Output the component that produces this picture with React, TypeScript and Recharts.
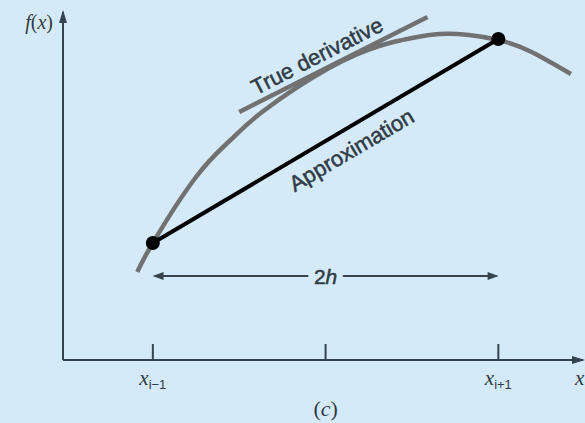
import React from "react";
import { LineChart, Line, XAxis, YAxis, ReferenceDot, ReferenceLine } from "recharts";

// curve f(x) (x in units of the tick spacing)
const curveX = [0.91, 1.0, 1.25, 1.45, 1.64, 2.02, 2.31, 2.5, 2.66, 2.83, 3.0, 3.18, 3.42];
const curveY = [0.88, 1.17, 1.83, 2.2, 2.49, 2.92, 3.14, 3.22, 3.26, 3.25, 3.2, 3.09, 2.86];

// tangent at x_i ("True derivative")
const tangentX = [1.5, 2.59];
const tangentY = [2.48, 3.43];

// secant through x_{i-1}, x_{i+1} ("Approximation")
const approxX = [1, 3];
const approxY = [1.17, 3.21];

// 2h span arrow
const spanY = 0.84;
const spanLeftX = [1.01, 1.9];
const spanRightX = [2.1, 2.99];

const xTicks = [1, 2, 3];
const xTickSubs = ["i\u22121", "", "i+1"];

const X_DOMAIN: [number, number] = [0.48, 3.49];
const Y_DOMAIN: [number, number] = [0, 3.48];

const BG = "#d5eaf9";
const AXIS = "#34434e";
const GRAY = "#717171";
const TEXT = "#2f3b45";

const pts = (xs: number[], ys: number[]) => xs.map((x, i) => ({ x, y: ys[i] }));

const curve = pts(curveX, curveY);
const tangent = pts(tangentX, tangentY);
const approx = pts(approxX, approxY);
const spanLeft = pts(spanLeftX, [spanY, spanY]);
const spanRight = pts(spanRightX, [spanY, spanY]);

function XTick(props: any) {
  const { x, y, payload, index } = props;
  const sub = xTickSubs[index] ?? "";
  return (
    <g key={`t-${payload.value}`}>
      <line x1={x} x2={x} y1={y} y2={y - 16} stroke={AXIS} strokeWidth={2} />
      {sub && (
        <text
          x={x}
          y={y + 25}
          textAnchor="middle"
          fill={TEXT}
          fontFamily="'Liberation Serif', serif"
          fontStyle="italic"
          fontSize={21}
        >
          x
          <tspan fontSize={13} dy={4} fontStyle="normal" fontFamily="'Liberation Sans', Arial, sans-serif">
            {sub}
          </tspan>
        </text>
      )}
    </g>
  );
}

const arrowDot = (dir: "left" | "right", at: number) => (p: any) => {
  const { cx, cy, index } = p;
  if (index !== at) return <g key={`d-${index}`} />;
  const s = dir === "left" ? -1 : 1;
  return (
    <path
      key={`d-${index}`}
      d={`M${cx + s * 2},${cy} L${cx - s * 9},${cy - 4} L${cx - s * 9},${cy + 4} Z`}
      fill={AXIS}
    />
  );
};

const rotatedText = (txt: string, angle: number, size: number) => (p: any) => (
  <text
    x={p.cx}
    y={p.cy}
    transform={`rotate(${angle} ${p.cx} ${p.cy})`}
    textAnchor="middle"
    dominantBaseline="central"
    fill={TEXT}
    stroke={TEXT}
    strokeWidth={0.5}
    fontFamily="'Liberation Sans', Arial, sans-serif"
    fontSize={size}
  >
    {txt}
  </text>
);

export default function App() {
  return (
    <div style={{ width: 585, height: 423, background: BG, position: "absolute", left: 0, top: 0 }}>
      <LineChart width={585} height={423} margin={{ top: 12, right: 2, bottom: 23, left: 63 }}>
        <XAxis
          type="number"
          dataKey="x"
          domain={X_DOMAIN}
          ticks={xTicks}
          allowDataOverflow
          height={40}
          tickSize={0}
          tickMargin={0}
          tickLine={false}
          stroke={AXIS}
          strokeWidth={2}
          tick={<XTick />}
        />
        <YAxis type="number" dataKey="y" domain={Y_DOMAIN} allowDataOverflow hide />
        <ReferenceLine x={X_DOMAIN[0]} stroke={AXIS} strokeWidth={2} ifOverflow="visible" />

        <Line data={curve} dataKey="y" type="natural" stroke={GRAY} strokeWidth={4.5} dot={false} isAnimationActive={false} />
        <Line data={tangent} dataKey="y" type="linear" stroke={GRAY} strokeWidth={4.5} dot={false} isAnimationActive={false} />
        <Line
          data={approx}
          dataKey="y"
          type="linear"
          stroke="#000"
          strokeWidth={4}
          dot={{ r: 7, fill: "#000", stroke: "none" }}
          isAnimationActive={false}
        />
        <Line data={spanLeft} dataKey="y" type="linear" stroke={AXIS} strokeWidth={2} dot={arrowDot("left", 0)} isAnimationActive={false} />
        <Line data={spanRight} dataKey="y" type="linear" stroke={AXIS} strokeWidth={2} dot={arrowDot("right", 1)} isAnimationActive={false} />

        <ReferenceDot
          x={2}
          y={spanY}
          ifOverflow="visible"
          shape={(p: any) => (
            <text x={p.cx} y={p.cy} textAnchor="middle" dominantBaseline="central" fill={TEXT} stroke={TEXT} strokeWidth={0.5} fontFamily="'Liberation Sans', Arial, sans-serif" fontSize={21}>
              2<tspan fontStyle="italic">h</tspan>
            </text>
          )}
        />
        <ReferenceDot x={1.95} y={3.04} ifOverflow="visible" shape={rotatedText("True derivative", -27, 22)} />
        <ReferenceDot x={2.15} y={2.1} ifOverflow="visible" shape={rotatedText("Approximation", -30.5, 22)} />

        {/* axis arrowheads and axis names */}
        <ReferenceDot
          x={X_DOMAIN[0]}
          y={Y_DOMAIN[1]}
          ifOverflow="visible"
          shape={(p: any) => (
            <g>
              <path d={`M${p.cx},${p.cy - 2} L${p.cx - 4},${p.cy + 11} L${p.cx + 4},${p.cy + 11} Z`} fill={AXIS} />
              <text x={p.cx - 10} y={p.cy + 17} textAnchor="end" fill={TEXT} fontFamily="'Liberation Serif', serif" fontSize={20}>
                <tspan fontStyle="italic">f</tspan>(<tspan fontStyle="italic">x</tspan>)
              </text>
            </g>
          )}
        />
        <ReferenceDot
          x={X_DOMAIN[1]}
          y={0}
          ifOverflow="visible"
          shape={(p: any) => (
            <g>
              <path d={`M${p.cx + 2},${p.cy} L${p.cx - 11},${p.cy - 4} L${p.cx - 11},${p.cy + 4} Z`} fill={AXIS} />
              <text x={p.cx - 8} y={p.cy + 25} fill={TEXT} fontFamily="'Liberation Serif', serif" fontStyle="italic" fontSize={21}>
                x
              </text>
            </g>
          )}
        />
        <ReferenceDot
          x={2}
          y={-0.48}
          ifOverflow="visible"
          shape={(p: any) => (
            <text x={p.cx} y={p.cy} textAnchor="middle" dominantBaseline="central" fill={TEXT} fontFamily="'Liberation Serif', serif" fontSize={22}>
              (<tspan fontStyle="italic">c</tspan>)
            </text>
          )}
        />
      </LineChart>
    </div>
  );
}
